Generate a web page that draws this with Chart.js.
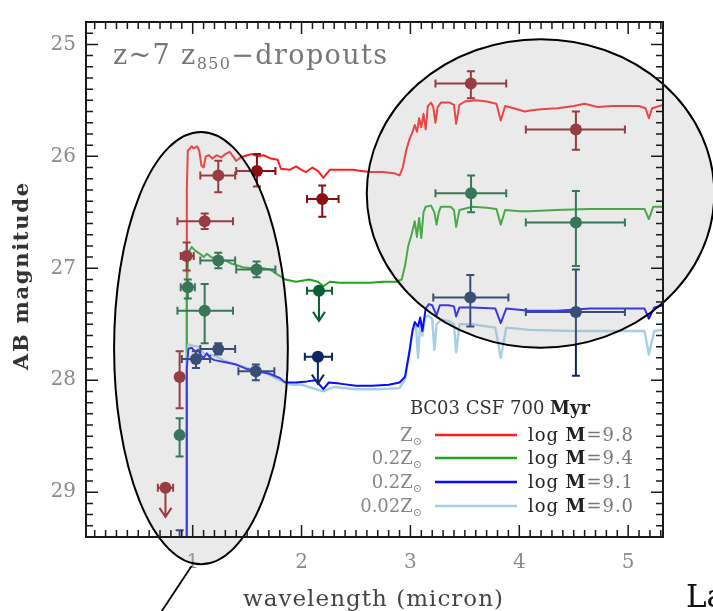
<!DOCTYPE html>
<html>
<head>
<meta charset="utf-8">
<script src="https://cdn.jsdelivr.net/npm/chart.js@4/dist/chart.umd.min.js"></script>
<style>
  html, body { margin: 0; padding: 0; background: #fff; overflow: hidden; }
  #wrap { width: 713px; height: 611px; position: relative; }
</style>
</head>
<body>
<div id="wrap"><canvas id="sed" width="713" height="611"></canvas></div>
<script>
// --- Data ---

// axis ranges (wavelength in micron, AB magnitude)
const xRange = [0.02, 5.32];
const yRange = [24.8, 29.4];

// photometry: red (Z_sun fit)
const redX    = [0.75, 0.88, 0.945, 1.11, 1.235, 1.59, 2.19, 3.555, 4.52];
const redY    = [28.96, 27.97, 26.89, 26.58, 26.17, 26.13, 26.38, 25.35, 25.76];
const redXLo  = [0.68, 0.88, 0.89, 0.86, 1.07, 1.40, 2.05, 3.23, 4.06];
const redXHi  = [0.82, 0.88, 1.01, 1.37, 1.39, 1.76, 2.34, 3.88, 4.97];
const redYLo  = [28.96, 27.74, 26.77, 26.51, 26.04, 25.98, 26.26, 25.24, 25.60];
const redYHi  = [28.96, 28.25, 27.02, 26.65, 26.32, 26.27, 26.54, 25.48, 25.94];
const redLim  = [29.22, null, null, null, null, null, null, null, null];

// photometry: green
const greenX   = [0.88, 0.955, 1.11, 1.235, 1.587, 2.16, 3.557, 4.52];
const greenY   = [28.49, 27.17, 27.38, 26.93, 27.01, 27.20, 26.33, 26.59];
const greenXLo = [0.86, 0.89, 0.86, 1.07, 1.40, 2.05, 3.23, 4.06];
const greenXHi = [0.90, 1.02, 1.37, 1.39, 1.76, 2.28, 3.88, 4.97];
const greenYLo = [28.34, 27.10, 27.14, 26.86, 26.94, 27.20, 26.17, 26.31];
const greenYHi = [28.68, 27.27, 27.67, 27.00, 27.08, 27.20, 26.50, 26.98];
const greenLim = [null, null, null, null, null, 27.47, null, null];

// photometry: blue
const blueX   = [0.88, 1.03, 1.235, 1.58, 2.15, 3.55, 4.52];
const blueY   = [29.60, 27.81, 27.72, 27.92, 27.79, 27.26, 27.39];
const blueXLo = [0.86, 0.90, 1.07, 1.42, 2.03, 3.21, 4.06];
const blueXHi = [0.90, 1.16, 1.39, 1.75, 2.28, 3.90, 4.97];
const blueYLo = [29.34, 27.74, 27.67, 27.86, 27.79, 27.06, 27.01];
const blueYHi = [29.90, 27.89, 27.77, 28.00, 27.79, 27.52, 27.96];
const blueLim = [null, null, null, null, 28.03, null, null];

// BC03 model spectra [wavelength, mag]
const modelRed = [[0.944,30.2],[0.946,26.3],[0.955,25.95],[0.975,25.93],[0.99,25.91],[1.01,25.93],[1.04,25.91],[1.06,25.95],[1.08,26.08],[1.1,26.1],[1.12,26.0],[1.15,25.99],[1.18,26.02],[1.22,25.99],[1.26,26.01],[1.3,25.98],[1.34,25.96],[1.4,26.04],[1.44,26.01],[1.5,25.99],[1.54,25.98],[1.6,26.0],[1.65,25.99],[1.72,26.02],[1.78,26.03],[1.81,26.11],[1.89,26.12],[1.95,26.09],[2.0,26.12],[2.04,26.14],[2.1,26.1],[2.15,26.13],[2.2,26.19],[2.26,26.12],[2.35,26.12],[2.47,26.12],[2.55,26.13],[2.63,26.14],[2.75,26.14],[2.85,26.15],[2.9,26.17],[2.93,26.1],[2.96,25.95],[2.99,25.85],[3.02,25.78],[3.04,25.72],[3.06,25.78],[3.08,25.66],[3.1,25.74],[3.12,25.62],[3.14,25.76],[3.16,25.55],[3.19,25.52],[3.21,25.56],[3.23,25.7],[3.25,25.56],[3.28,25.52],[3.36,25.52],[3.4,25.54],[3.42,25.71],[3.45,25.54],[3.5,25.51],[3.6,25.5],[3.7,25.51],[3.79,25.53],[3.83,25.68],[3.87,25.55],[3.95,25.57],[4.05,25.6],[4.1,25.59],[4.2,25.58],[4.35,25.57],[4.5,25.55],[4.6,25.53],[4.72,25.56],[4.85,25.55],[5.0,25.55],[5.1,25.55],[5.16,25.57],[5.19,25.66],[5.22,25.57],[5.32,25.54]];
const modelGreen = [[0.944,30.2],[0.946,27.2],[0.96,26.86],[0.99,26.81],[1.02,26.84],[1.05,26.86],[1.08,26.88],[1.1,26.9],[1.13,26.87],[1.17,26.9],[1.22,26.92],[1.3,26.93],[1.36,26.96],[1.4,26.97],[1.46,26.99],[1.55,27.0],[1.65,27.0],[1.71,27.01],[1.77,27.05],[1.85,27.1],[1.95,27.12],[2.07,27.1],[2.15,27.12],[2.2,27.16],[2.26,27.12],[2.35,27.13],[2.47,27.13],[2.63,27.13],[2.75,27.12],[2.87,27.12],[2.92,27.1],[2.95,26.98],[2.98,26.8],[3.01,26.7],[3.04,26.58],[3.06,26.72],[3.08,26.55],[3.1,26.73],[3.12,26.5],[3.14,26.45],[3.19,26.44],[3.22,26.5],[3.24,26.61],[3.26,26.5],[3.28,26.45],[3.37,26.45],[3.4,26.48],[3.42,26.63],[3.45,26.48],[3.57,26.45],[3.7,26.46],[3.79,26.47],[3.83,26.61],[3.87,26.48],[4.0,26.49],[4.09,26.49],[4.34,26.48],[4.64,26.47],[4.95,26.47],[5.15,26.47],[5.19,26.56],[5.23,26.45],[5.32,26.45]];
const modelBlue = [[0.944,30.2],[0.946,27.9],[0.96,27.72],[0.99,27.71],[1.02,27.74],[1.05,27.73],[1.08,27.78],[1.1,27.8],[1.13,27.76],[1.16,27.8],[1.2,27.82],[1.3,27.84],[1.4,27.86],[1.5,27.9],[1.6,27.92],[1.7,27.94],[1.8,27.98],[1.85,28.02],[1.95,28.02],[2.05,28.01],[2.13,28.0],[2.2,28.08],[2.25,28.02],[2.35,28.03],[2.5,28.05],[2.65,28.05],[2.8,28.04],[2.9,28.02],[2.95,27.97],[2.99,27.75],[3.02,27.55],[3.04,27.48],[3.07,27.52],[3.09,27.44],[3.11,27.56],[3.14,27.36],[3.17,27.32],[3.2,27.33],[3.24,27.42],[3.27,27.33],[3.35,27.33],[3.4,27.34],[3.42,27.43],[3.45,27.35],[3.57,27.35],[3.78,27.36],[3.83,27.49],[3.88,27.36],[4.09,27.38],[4.35,27.38],[4.65,27.36],[4.95,27.36],[5.15,27.36],[5.19,27.45],[5.24,27.35],[5.32,27.33]];
const modelLightBlue = [[0.944,30.2],[0.946,27.8],[0.96,27.68],[1.0,27.69],[1.05,27.7],[1.1,27.76],[1.2,27.78],[1.3,27.83],[1.4,27.86],[1.5,27.89],[1.6,27.92],[1.7,27.95],[1.8,28.0],[1.9,28.04],[2.0,28.04],[2.2,28.1],[2.3,28.06],[2.5,28.08],[2.7,28.08],[2.9,28.07],[2.95,27.99],[2.99,27.75],[3.02,27.56],[3.05,27.5],[3.07,27.8],[3.09,27.47],[3.11,27.6],[3.13,27.45],[3.16,27.42],[3.2,27.45],[3.22,27.73],[3.24,27.5],[3.28,27.46],[3.35,27.47],[3.4,27.5],[3.42,27.75],[3.45,27.5],[3.57,27.5],[3.78,27.53],[3.83,27.8],[3.88,27.53],[4.09,27.55],[4.5,27.56],[5.0,27.56],[5.15,27.56],[5.19,27.77],[5.24,27.56],[5.32,27.55]];

// legend rows
const legendZ    = ['Z', '0.2Z', '0.2Z', '0.02Z'];
const legendMass = ['9.8', '9.4', '9.1', '9.0'];

// callout ellipses in data units: [cx, cy, rx, ry]
const callouts = [[1.076, 27.713, 0.798, 1.931], [4.195, 26.331, 1.596, 1.378]];
const leader = [[0.99, 29.66], [0.69, 30.1]];

// --- Colours ---
const RED = '#ff1c1c', GREEN = '#1fa51f', BLUE = '#0a0aff', LIGHTBLUE = '#a4cfe6';
const RED_PT = 'rgb(140,14,20)', GREEN_PT = 'rgb(10,95,55)', BLUE_PT = 'rgb(10,40,95)';
const MODEL_COLORS = [RED, GREEN, BLUE, LIGHTBLUE];

Chart.defaults.font.family = 'DejaVu Serif';

function photometry(xs, ys, xlo, xhi, ylo, yhi, lim, color) {
  return {
    data: xs.map((x, i) => ({ x, y: ys[i] })),
    err: xs.map((x, i) => ({ xlo: xlo[i], xhi: xhi[i], ylo: ylo[i], yhi: yhi[i], lim: lim[i] })),
    backgroundColor: color,
    borderColor: color,
    pointRadius: 6,
    pointBorderWidth: 0,
    showLine: false,
    clip: 0
  };
}

function model(pts, color, width) {
  return {
    data: pts.map(([x, y]) => ({ x, y })),
    borderColor: color,
    borderWidth: width,
    pointRadius: 0,
    showLine: true,
    tension: 0,
    borderJoinStyle: 'round'
  };
}

// error bars, drawn just before each photometry dataset
const errorBars = {
  id: 'errorBars',
  beforeDatasetDraw(chart, args) {
    const ds = chart.data.datasets[args.index];
    if (!ds.err) return;
    const { ctx, chartArea: a, scales: { x, y } } = chart;
    ctx.save();
    ctx.beginPath();
    ctx.rect(a.left, a.top, a.right - a.left, a.bottom - a.top);
    ctx.clip();
    ctx.strokeStyle = ds.borderColor;
    ctx.lineWidth = 2;
    ds.err.forEach((e, i) => {
      const px = x.getPixelForValue(ds.data[i].x);
      const py = y.getPixelForValue(ds.data[i].y);
      ctx.beginPath();
      if (e.xhi > e.xlo) {
        const l = x.getPixelForValue(e.xlo), r = x.getPixelForValue(e.xhi);
        ctx.moveTo(l, py); ctx.lineTo(r, py);
        ctx.moveTo(l, py - 4); ctx.lineTo(l, py + 4);
        ctx.moveTo(r, py - 4); ctx.lineTo(r, py + 4);
      }
      if (e.yhi > e.ylo) {
        const t = y.getPixelForValue(e.ylo), b = y.getPixelForValue(e.yhi);
        ctx.moveTo(px, t); ctx.lineTo(px, b);
        ctx.moveTo(px - 4, t); ctx.lineTo(px + 4, t);
        ctx.moveTo(px - 4, b); ctx.lineTo(px + 4, b);
      }
      if (e.lim != null) {
        const tip = y.getPixelForValue(e.lim);
        ctx.moveTo(px, py); ctx.lineTo(px, tip);
        ctx.moveTo(px - 6, tip - 9); ctx.lineTo(px, tip); ctx.lineTo(px + 6, tip - 9);
      }
      ctx.stroke();
    });
    ctx.restore();
  }
};

// grey highlight ellipses laid over the plot
const calloutOverlay = {
  id: 'calloutOverlay',
  afterDatasetsDraw(chart) {
    const { ctx, scales: { x, y } } = chart;
    ctx.save();
    callouts.forEach(([cx, cy, rx, ry]) => {
      const px = x.getPixelForValue(cx), py = y.getPixelForValue(cy);
      const rpx = x.getPixelForValue(cx + rx) - px;
      const rpy = Math.abs(y.getPixelForValue(cy + ry) - py);
      ctx.beginPath();
      ctx.ellipse(px, py, rpx, rpy, 0, 0, Math.PI * 2);
      ctx.fillStyle = 'rgba(178,178,178,0.28)';
      ctx.fill();
      ctx.lineWidth = 2;
      ctx.strokeStyle = '#000';
      ctx.stroke();
    });
    ctx.beginPath();
    ctx.moveTo(x.getPixelForValue(leader[0][0]), y.getPixelForValue(leader[0][1]));
    ctx.lineTo(x.getPixelForValue(leader[1][0]), y.getPixelForValue(leader[1][1]));
    ctx.lineWidth = 1.8;
    ctx.stroke();
    ctx.restore();
  }
};

// box with inward ticks on all four sides
const frameTicks = {
  id: 'frameTicks',
  afterDraw(chart) {
    const { ctx, chartArea: a, scales: { x, y } } = chart;
    ctx.save();
    ctx.strokeStyle = '#1a1a1a';
    ctx.lineWidth = 1.5;
    ctx.beginPath();
    for (let i = 1; i <= 53; i++) {
      const px = x.getPixelForValue(i / 10);
      if (px <= a.left || px >= a.right) continue;
      const len = i % 10 === 0 ? 12 : 7;
      ctx.moveTo(px, a.bottom); ctx.lineTo(px, a.bottom - len);
      ctx.moveTo(px, a.top); ctx.lineTo(px, a.top + len);
    }
    for (let i = 249; i <= 293; i++) {
      const py = y.getPixelForValue(i / 10);
      const len = i % 10 === 0 ? 12 : 7;
      ctx.moveTo(a.left, py); ctx.lineTo(a.left + len, py);
      ctx.moveTo(a.right, py); ctx.lineTo(a.right - len, py);
    }
    ctx.stroke();
    ctx.lineWidth = 2;
    ctx.strokeRect(a.left, a.top, a.right - a.left, a.bottom - a.top);
    ctx.restore();
  }
};

// draw runs of text char by char, spread to a target width
function fitText(ctx, runs, x, y, width, align) {
  let natural = 0, n = 0;
  runs.forEach(r => {
    ctx.font = r.font;
    for (const ch of r.t) { natural += ctx.measureText(ch).width; n++; }
  });
  const w = width || natural;
  const gap = width ? (width - natural) / Math.max(1, n - 1) : 0;
  let cx = align === 'right' ? x - w : x;
  runs.forEach(r => {
    ctx.font = r.font;
    ctx.fillStyle = r.color;
    for (const ch of r.t) {
      ctx.fillText(ch, cx, y + (r.dy || 0));
      cx += ctx.measureText(ch).width + gap;
    }
  });
}

const annotations = {
  id: 'annotations',
  afterDraw(chart) {
    const { ctx } = chart;
    const F = 'DejaVu Serif';
    ctx.save();
    ctx.textBaseline = 'alphabetic';

    // panel title
    fitText(ctx, [
      { t: 'z~7 z', font: `27px ${F}`, color: '#777' },
      { t: '850', font: `16px ${F}`, color: '#777', dy: 5 },
      { t: '\u2212dropouts', font: `27px ${F}`, color: '#777' }
    ], 113, 64, 274);

    // legend
    fitText(ctx, [
      { t: 'BC03 CSF 700 ', font: `18px ${F}`, color: '#333' },
      { t: 'Myr', font: `bold 18px ${F}`, color: '#222' }
    ], 410, 414, 180);
    const rowY = [435, 458, 482, 506];
    legendZ.forEach((z, i) => {
      fitText(ctx, [
        { t: z, font: `18px ${F}`, color: '#888' },
        { t: '\u2299', font: `11px ${F}`, color: '#888', dy: 4 }
      ], 422, rowY[i] + 6, null, 'right');
      ctx.beginPath();
      ctx.moveTo(435, rowY[i]); ctx.lineTo(517, rowY[i]);
      ctx.strokeStyle = MODEL_COLORS[i];
      ctx.lineWidth = 2.5;
      ctx.stroke();
      fitText(ctx, [
        { t: 'log ', font: `18px ${F}`, color: '#222' },
        { t: 'M', font: `bold 18px ${F}`, color: '#222' },
        { t: '=' + legendMass[i], font: `18px ${F}`, color: '#777' }
      ], 528, rowY[i] + 6, 105);
    });

    // axis titles
    fitText(ctx, [{ t: 'wavelength (micron)', font: `23px ${F}`, color: '#444' }],
      243, 606, 260);
    ctx.save();
    ctx.translate(28, 370);
    ctx.rotate(-Math.PI / 2);
    fitText(ctx, [{ t: 'AB magnitude', font: `bold 21px ${F}`, color: '#333' }], 0, 0, 187);
    ctx.restore();

    // clipped text at the page edge
    ctx.font = `31px ${F}`;
    ctx.fillStyle = '#111';
    ctx.fillText('La', 686, 607);
    ctx.restore();
  }
};

const datasets = [
  photometry(redX, redY, redXLo, redXHi, redYLo, redYHi, redLim, RED_PT),
  photometry(greenX, greenY, greenXLo, greenXHi, greenYLo, greenYHi, greenLim, GREEN_PT),
  photometry(blueX, blueY, blueXLo, blueXHi, blueYLo, blueYHi, blueLim, BLUE_PT),
  model(modelBlue, BLUE, 2),
  model(modelLightBlue, LIGHTBLUE, 2.4),
  model(modelGreen, GREEN, 2),
  model(modelRed, RED, 2)
];

const tickFont = { family: 'DejaVu Serif', size: 20 };

new Chart(document.getElementById('sed'), {
  type: 'scatter',
  data: { datasets },
  options: {
    responsive: false,
    animation: false,
    devicePixelRatio: 1,
    layout: { padding: { top: 9, right: 50, left: 0, bottom: 0 } },
    plugins: { legend: { display: false }, tooltip: { enabled: false } },
    scales: {
      x: {
        type: 'linear',
        min: xRange[0],
        max: xRange[1],
        grid: { display: false, drawTicks: false },
        border: { display: false },
        ticks: {
          stepSize: 1, includeBounds: false, padding: 14, color: '#8a8a8a',
          font: tickFont, maxRotation: 0, autoSkip: false
        },
        afterFit: s => { s.height = 74; }
      },
      y: {
        type: 'linear',
        reverse: true,
        min: yRange[0],
        max: yRange[1],
        grid: { display: false, drawTicks: false },
        border: { display: false },
        ticks: {
          stepSize: 1, includeBounds: false, padding: 10, color: '#8a8a8a',
          font: tickFont, autoSkip: false
        },
        afterFit: s => { s.width = 86; }
      }
    }
  },
  plugins: [errorBars, calloutOverlay, frameTicks, annotations]
});
</script>
</body>
</html>
